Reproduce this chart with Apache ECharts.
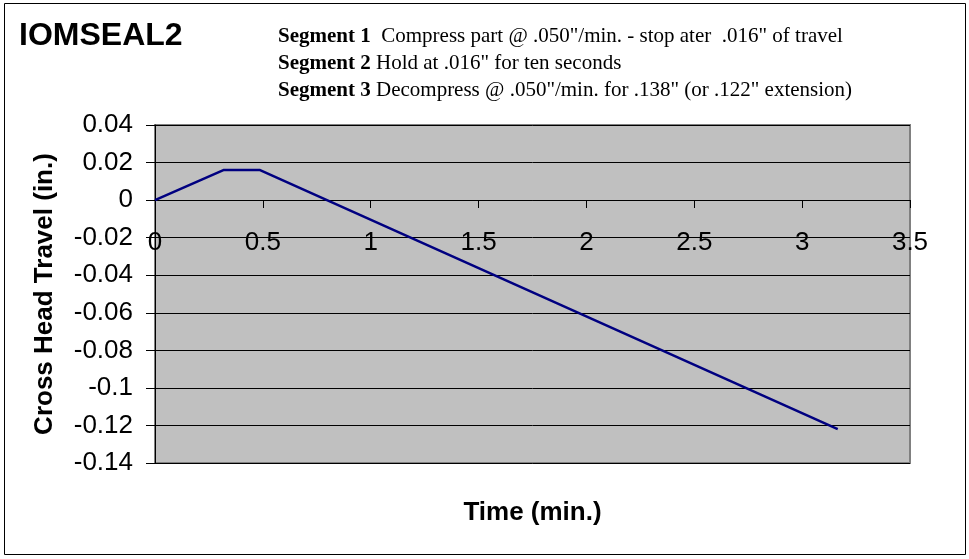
<!DOCTYPE html>
<html>
<head>
<meta charset="utf-8">
<script src="https://cdn.jsdelivr.net/npm/echarts@6/dist/echarts.min.js"></script>
<style>
  html, body { margin: 0; padding: 0; background: #fff; }
  #chart { width: 969px; height: 559px; }
</style>
</head>
<body>
<div id="chart"></div>
<script>
// travel profile: compress, hold, decompress
const timeMin = [0, 0.317, 0.487, 3.165];
const travelIn = [0, 0.016, 0.016, -0.122];

const segmentNotes = [
  ['Segment 1', '  Compress part @ .050"/min. - stop ater  .016" of travel'],
  ['Segment 2', ' Hold at .016" for ten seconds'],
  ['Segment 3', ' Decompress @ .050"/min. for .138" (or .122" extension)']
];

const sans = 'Liberation Sans, Arial, sans-serif';
const serif = 'Liberation Serif, Times New Roman, serif';

const chart = echarts.init(document.getElementById('chart'));

const notesText = segmentNotes.map(s => '{b|' + s[0] + '}{r|' + s[1] + '}').join('\n');

chart.setOption({
  animation: false,
  title: {
    text: 'IOMSEAL2',
    left: 14,
    top: 15,
    textStyle: { fontFamily: sans, fontSize: 32, fontWeight: 'bold', color: '#000' }
  },
  graphic: [
    {
      type: 'rect',
      shape: { x: 4.5, y: 3.5, width: 961, height: 551 },
      style: { fill: 'none', stroke: '#000', lineWidth: 1 },
      silent: true
    },
    {
      type: 'text',
      left: 278,
      top: 26,
      style: {
        text: notesText,
        rich: {
          b: { fontFamily: serif, fontSize: 21, fontWeight: 'bold', fill: '#000', lineHeight: 27 },
          r: { fontFamily: serif, fontSize: 21, fill: '#000', lineHeight: 27 }
        }
      }
    }
  ],
  grid: {
    left: 155, right: 59, top: 125, bottom: 96,
    show: true,
    backgroundColor: '#c0c0c0',
    borderColor: '#808080',
    borderWidth: 2
  },
  xAxis: [
    {
      // drawn across the y = 0 level of the plot
      type: 'value',
      min: 0, max: 3.5, interval: 0.5,
      position: 'bottom',
      offset: -263,
      axisLine: { onZero: false, lineStyle: { color: '#000', width: 1 } },
      axisTick: { show: true, length: 8, inside: false, lineStyle: { color: '#000' } },
      axisLabel: { margin: 30, fontFamily: sans, fontSize: 26, color: '#000' },
      splitLine: { show: false }
    },
    {
      type: 'value',
      position: 'bottom',
      min: 0, max: 3.5,
      axisLine: { show: false, onZero: false },
      axisTick: { show: false },
      axisLabel: { show: false },
      splitLine: { show: false },
      name: 'Time (min.)',
      nameLocation: 'middle',
      nameGap: 37,
      nameTextStyle: { fontFamily: sans, fontSize: 26, fontWeight: 'bold', color: '#000' }
    }
  ],
  yAxis: {
    type: 'value',
    min: -0.14, max: 0.04, interval: 0.02,
    axisLine: { show: true, onZero: false, lineStyle: { color: '#000', width: 1 } },
    axisTick: { show: true, length: 9, lineStyle: { color: '#000' } },
    axisLabel: {
      margin: 22, fontFamily: sans, fontSize: 26, color: '#000',
      formatter: v => String(+v.toFixed(2))
    },
    splitLine: { show: true, lineStyle: { color: '#000', width: 1 } },
    name: 'Cross Head Travel (in.)',
    nameLocation: 'middle',
    nameGap: 97,
    nameTextStyle: { fontFamily: sans, fontSize: 26, fontWeight: 'bold', color: '#000' }
  },
  series: [
    {
      type: 'line',
      xAxisIndex: 0,
      data: timeMin.map((t, i) => [t, travelIn[i]]),
      showSymbol: false,
      lineStyle: { color: '#000080', width: 2.5 },
      itemStyle: { color: '#000080' }
    }
  ]
});
</script>
</body>
</html>
